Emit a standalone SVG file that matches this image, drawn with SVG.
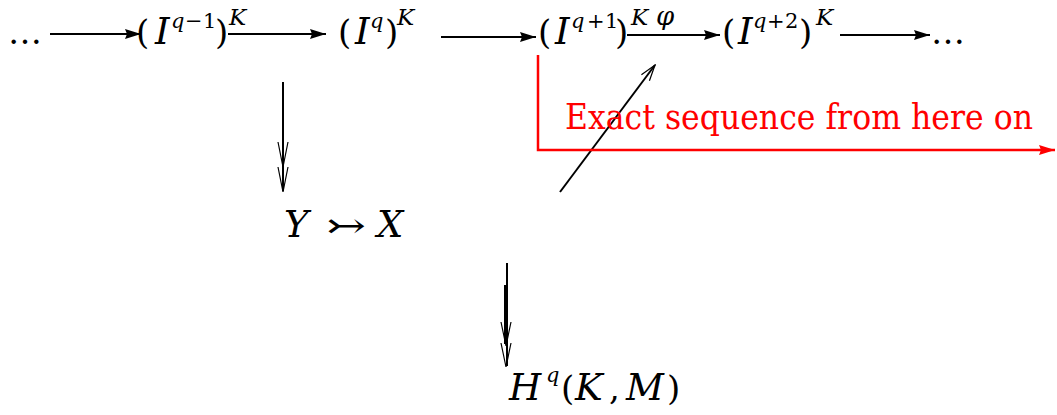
<svg xmlns="http://www.w3.org/2000/svg" width="1057" height="415" viewBox="0 0 1057 415">
<style>
.m{font-size:34px}
.s{font-size:21px}
.k{font-size:23px;font-style:italic}
.i{font-style:italic}
.b{font-size:37px;font-style:italic}
.red{fill:#ff0000;font-size:36px}
.ln{stroke:#000;stroke-width:2;fill:none}
.ch{stroke:#000;stroke-width:1.2;fill:none}
</style>
<defs>
<marker id="tri" viewBox="0 0 16 10" refX="16" refY="5" markerWidth="16" markerHeight="10" markerUnits="userSpaceOnUse" orient="auto"><path d="M0,0 L16,5 L0,10 L2,5 z" fill="#000"/></marker>
<marker id="rtri" viewBox="0 0 16 10" refX="16" refY="5" markerWidth="16" markerHeight="10" markerUnits="userSpaceOnUse" orient="auto"><path d="M0,0 L16,5 L0,10 L2,5 z" fill="#ff0000"/></marker>
<marker id="open" viewBox="-1 -1 18 12" refX="16" refY="5" markerWidth="18" markerHeight="12" markerUnits="userSpaceOnUse" orient="auto"><path d="M0,0 L16,5 L0,10" fill="none" stroke="#000" stroke-width="1.2"/></marker>
</defs>
<g id="connectors">
<line class="ln" x1="50" y1="34" x2="141" y2="34" marker-end="url(#tri)"/>
<line class="ln" x1="228" y1="34" x2="326" y2="34" marker-end="url(#tri)"/>
<line class="ln" x1="441" y1="37" x2="536" y2="37" marker-end="url(#tri)"/>
<line class="ln" x1="627" y1="35" x2="720" y2="35" marker-end="url(#tri)"/>
<line class="ln" x1="840" y1="35" x2="930" y2="35" marker-end="url(#tri)"/>
<line class="ln" x1="283" y1="82" x2="283" y2="191"/>
<path class="ch" d="M278,142 L283,167 L288,142 M278,167 L283,192 L288,167"/>
<line class="ln" x1="560" y1="192" x2="655" y2="65" marker-end="url(#open)"/>
<line class="ln" x1="507" y1="263" x2="507" y2="366"/>
<line class="ln" x1="505" y1="285" x2="505" y2="344"/>
<path class="ch" d="M501,322 L506,346 L511,322 M501,343 L506,367 L511,343"/>
</g>
<g id="labels" font-family="DejaVu Serif, serif">
<g id="dots-left"><text class="m" x="8" y="44" letter-spacing="3">…</text></g>
<g id="n-Iqm1"><text class="m" y="44"><tspan x="136">(</tspan><tspan x="155" class="b">I</tspan><tspan x="171" y="28" class="s i">q</tspan><tspan x="185" class="s">−</tspan><tspan x="203" class="s">1</tspan><tspan x="215" y="44">)</tspan><tspan x="229" y="25" class="k">K</tspan></text></g>
<g id="n-Iq"><text class="m" y="44"><tspan x="338">(</tspan><tspan x="355" class="b">I</tspan><tspan x="370" y="28" class="s i">q</tspan><tspan x="385" y="44">)</tspan><tspan x="397" y="25" class="k">K</tspan></text></g>
<g id="n-Iqp1"><text class="m" y="44"><tspan x="538">(</tspan><tspan x="555" class="b">I</tspan><tspan x="571" y="28" class="s i">q</tspan><tspan x="587" class="s">+</tspan><tspan x="605" class="s">1</tspan><tspan x="615" y="44">)</tspan><tspan x="631" y="25" class="k">K</tspan><tspan x="656" y="25" class="k" style="font-size:26px">φ</tspan></text></g>
<g id="n-Iqp2"><text class="m" y="44"><tspan x="722">(</tspan><tspan x="738" class="b">I</tspan><tspan x="753" y="28" class="s i">q</tspan><tspan x="767" class="s">+</tspan><tspan x="785" class="s">2</tspan><tspan x="799" y="44">)</tspan><tspan x="816" y="25" class="k">K</tspan></text></g>
<g id="dots-right"><text class="m" x="931" y="44" letter-spacing="3">…</text></g>
<g id="n-YX"><text class="m" y="237"><tspan x="284" class="b">Y</tspan><tspan x="326" textLength="40" lengthAdjust="spacingAndGlyphs">↣</tspan><tspan x="377" class="b">X</tspan></text></g>
<g id="n-H"><text class="m" y="400"><tspan x="509" class="b">H</tspan><tspan x="546" y="382" class="s i">q</tspan><tspan x="561" y="400">(</tspan><tspan x="575" class="b">K</tspan><tspan x="609">,</tspan><tspan x="626" class="b">M</tspan><tspan x="667">)</tspan></text></g>
<g id="exact">
<path d="M538,55 L538,150 L1055,150" stroke="#ff0000" stroke-width="2.5" fill="none" marker-end="url(#rtri)"/>
<text class="red" x="565" y="129" font-family="DejaVu Serif, serif" textLength="468" lengthAdjust="spacingAndGlyphs">Exact sequence from here on</text>
</g>
</g>
</svg>
